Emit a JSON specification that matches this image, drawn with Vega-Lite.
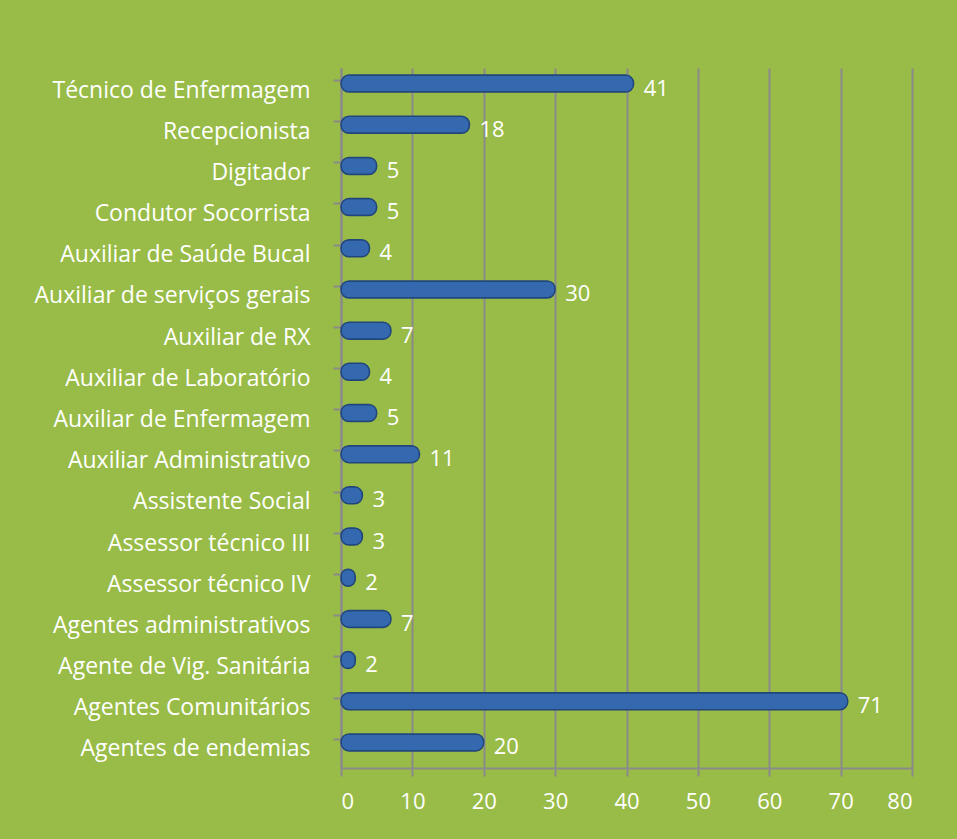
{
  "$schema": "https://vega.github.io/schema/vega-lite/v6.json",
  "width": 571,
  "height": 700,
  "autosize": {"type": "none"},
  "padding": {"left": 341, "top": 68, "right": 45, "bottom": 71},
  "background": "#98BC47",
  "config": {
    "view": {"stroke": null},
    "font": "Open Sans",
    "axis": {"labelFont": "Open Sans", "labelColor": "white", "labelFontSize": 22, "domainColor": "#8A8A8A", "tickColor": "#8A8A8A", "gridColor": "#8A8A8A"}
  },
  "data": {
    "values": [
      {"cargo": "Técnico de Enfermagem", "n": 41},
      {"cargo": "Recepcionista", "n": 18},
      {"cargo": "Digitador", "n": 5},
      {"cargo": "Condutor Socorrista", "n": 5},
      {"cargo": "Auxiliar de Saúde Bucal", "n": 4},
      {"cargo": "Auxiliar de serviços gerais", "n": 30},
      {"cargo": "Auxiliar de RX", "n": 7},
      {"cargo": "Auxiliar de Laboratório ", "n": 4},
      {"cargo": "Auxiliar de Enfermagem", "n": 5},
      {"cargo": "Auxiliar Administrativo", "n": 11},
      {"cargo": "Assistente Social", "n": 3},
      {"cargo": "Assessor técnico III", "n": 3},
      {"cargo": "Assessor técnico IV", "n": 2},
      {"cargo": "Agentes administrativos", "n": 7},
      {"cargo": "Agente de Vig. Sanitária", "n": 2},
      {"cargo": "Agentes Comunitários", "n": 71},
      {"cargo": "Agentes de endemias", "n": 20}
    ]
  },
  "encoding": {
    "y": {
      "field": "cargo", "type": "nominal", "sort": null, "title": null,
      "scale": {"paddingInner": 0.6, "paddingOuter": 0.3},
      "axis": {"bandPosition": 0, "tickSize": 8, "tickWidth": 2, "domainWidth": 2, "labelPadding": 23, "labelFontSize": 23, "labelOffset": 2, "grid": false, "labelLimit": 330}
    },
    "x": {
      "field": "n", "type": "quantitative", "title": null,
      "scale": {"domain": [0, 80], "nice": false},
      "axis": {"values": [0,10,20,30,40,50,60,70,80], "tickSize": 8, "tickWidth": 2, "domainWidth": 2, "gridWidth": 2, "labelPadding": 15}
    }
  },
  "layer": [
    {
      "mark": {"type": "bar", "color": "#3469B0", "stroke": "#22467C", "strokeWidth": 1.5, "cornerRadius": 8, "height": 17, "yOffset": -5}
    },
    {
      "mark": {"type": "text", "align": "left", "dx": 10, "dy": 0, "color": "white", "fontSize": 22, "font": "Open Sans"},
      "encoding": {"text": {"field": "n", "type": "quantitative"}}
    }
  ]
}
